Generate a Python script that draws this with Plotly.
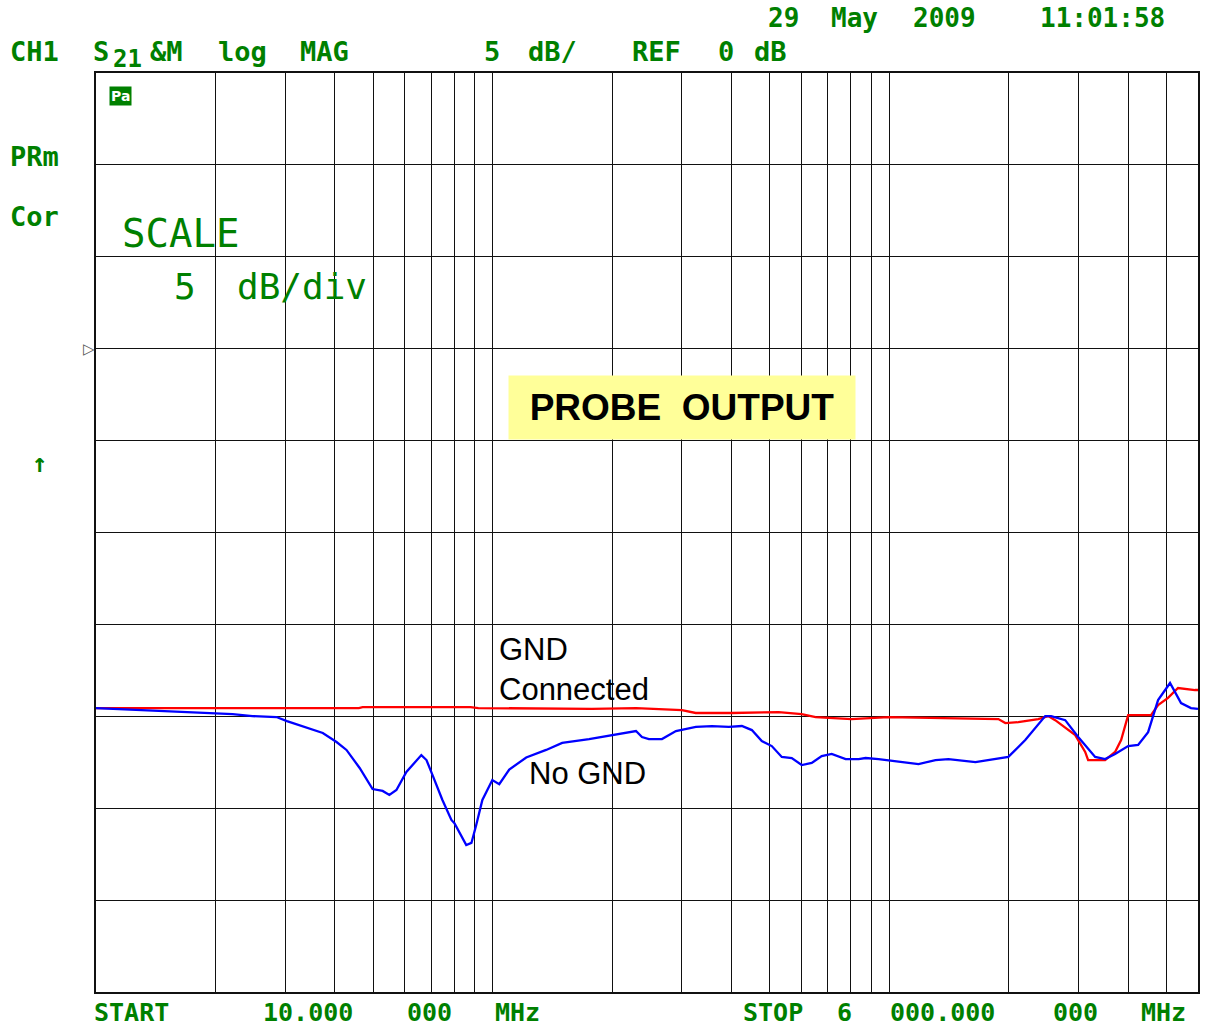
import math
import plotly.graph_objects as go

# ---------------- data ----------------
blue_freq = [10, 13.4, 15.6, 19.7, 22.1, 24.8, 28.5, 30.3, 34.0, 37.3,
             40.4, 42.8, 46.2, 49.8, 52.8, 54.9, 57.2, 60.6, 66.1, 68.1,
             70.5, 74.7, 78.7, 80.1, 85.8, 88.4, 90.9, 94.2, 99.8, 103.9,
             110.1, 121.5, 136.4, 149.7, 175.0, 200.0, 229.8, 237.9, 247.7, 267.2,
             289.7, 325.3, 357.0, 393.9, 424.8, 450.2, 476.9, 505.4, 535.6, 567.6,
             601.4, 637.3, 675.3, 715.6, 776.0, 836.8, 871.3, 939.3, 1098.7, 1184.6,
             1307.2, 1409.3, 1648.4, 1850.6, 1995.2, 2201.4, 2471.7, 2559.0, 2775.8, 2993.3,
             3302.8, 3499.4, 3708.0, 3999.6, 4238.6, 4491.3, 4758.8, 5101.3, 5436.9, 5760.9,
             6000]
blue_db = [-19.55, -19.66, -19.72, -19.82, -19.88, -19.99, -20.04, -20.26, -20.64, -20.91,
           -21.40, -21.83, -22.81, -23.96, -24.06, -24.28, -24.01, -23.03, -22.11, -22.38,
           -23.19, -24.55, -25.64, -25.81, -27.00, -26.89, -25.91, -24.55, -23.47, -23.69,
           -22.90, -22.24, -21.83, -21.45, -21.24, -21.02, -20.80, -21.13, -21.24, -21.24,
           -20.80, -20.58, -20.53, -20.58, -20.53, -20.75, -21.35, -21.62, -22.21, -22.27,
           -22.65, -22.54, -22.16, -22.05, -22.33, -22.33, -22.27, -22.33, -22.49, -22.60,
           -22.38, -22.33, -22.49, -22.33, -22.21, -21.29, -19.99, -19.99, -20.21, -21.13,
           -22.21, -22.33, -22.05, -21.62, -21.56, -20.86, -19.12, -18.19, -19.28, -19.55,
           -19.60]

red_freq = [10, 46, 47, 88, 92, 178, 230, 300, 325, 401,
            526, 601, 652, 803, 995, 1307, 1883, 1961, 2114, 2373,
            2515, 2619, 2776, 2942, 3117, 3171, 3499, 3708, 3840, 4000,
            4568, 4759, 5042, 5343, 5896, 6000]
red_db = [-19.55, -19.55, -19.50, -19.50, -19.55, -19.60, -19.55, -19.66, -19.82, -19.82,
          -19.77, -19.88, -20.04, -20.15, -20.04, -20.10, -20.15, -20.37, -20.32, -20.15,
          -19.99, -20.21, -20.64, -21.02, -21.94, -22.38, -22.38, -21.94, -21.29, -19.94,
          -19.94, -19.39, -19.00, -18.46, -18.57, -18.57]

x_grid = [10, 20, 30, 40, 50, 60, 70, 80, 90,
          100, 200, 300, 400, 500, 600, 700, 800, 900,
          1000, 2000, 3000, 4000, 5000, 6000]
y_grid = [-35, -30, -25, -20, -15, -10, -5, 0, 5, 10, 15]
x_range = [10, 6000]
y_range = [-35, 15]

# ---------------- layout helpers ----------------
W, H = 1209, 1030
L, R, T, B = 96, 9, 73, 38
PW, PH = W - L - R, H - T - B
GREEN = "#008000"
MONO = "DejaVu Sans Mono"


def px(x):  # page pixel -> paper fraction
    return (x - L) / PW


def py(y):
    return 1 - (y - T) / PH


fig = go.Figure()
fig.add_trace(go.Scatter(x=red_freq, y=red_db, mode="lines", name="GND Connected",
                         line=dict(color="#ff0000", width=2.3)))
fig.add_trace(go.Scatter(x=blue_freq, y=blue_db, mode="lines", name="No GND",
                         line=dict(color="#0000ff", width=2.3)))

fig.update_xaxes(type="log", range=[math.log10(x_range[0]), math.log10(x_range[1])],
                 tickmode="array", tickvals=x_grid, showticklabels=False, ticks="",
                 showgrid=True, gridcolor="#111111", gridwidth=1.3,
                 showline=True, mirror=True, linecolor="#111111", linewidth=1.5,
                 zeroline=False)
fig.update_yaxes(range=y_range, tickmode="array", tickvals=y_grid, showticklabels=False,
                 ticks="", showgrid=True, gridcolor="#111111", gridwidth=1.3,
                 showline=True, mirror=True, linecolor="#111111", linewidth=1.5,
                 zeroline=False)

ann = []


def text(s, x, y, size, color=GREEN, family=MONO, weight="bold", **kw):
    d = dict(text=s, x=px(x), y=py(y), xref="paper", yref="paper",
             xanchor="left", yanchor="middle", showarrow=False,
             font=dict(family=family, size=size, color=color, weight=weight))
    d.update(kw)
    ann.append(d)


# instrument header text
for s, x, y in [("29", 767, 18), ("May", 830, 18), ("2009", 912, 18), ("11:01:58", 1040, 18)]:
    text(s, x, y, 26)
for s, x, y in [("CH1", 8, 51), ("S", 91, 51), ("&amp;M", 148, 51), ("log", 216, 51),
                ("MAG", 298, 51), ("5", 483, 51), ("dB/", 527, 51), ("REF", 631, 51),
                ("0", 717, 51), ("dB", 753, 51),
                ("PRm", 8, 156), ("Cor", 8, 217)]:
    text(s, x, y, 27)
# footer text
for s, x, y in [("START", 92, 1013), ("10.000", 261, 1013), ("000", 406, 1013),
                ("MHz", 494, 1013), ("STOP", 742, 1013), ("6", 836, 1013),
                ("000.000", 889, 1013), ("000", 1053, 1013), ("MHz", 1141, 1013)]:
    text(s, x, y, 25)
text("21", 111, 59, 24)
text("SCALE", 120, 234, 39, weight="normal")
text("5", 172, 286, 36, weight="normal")
text("dB/div", 235, 286, 36, weight="normal")
text("↑", 30, 463, 26)
text("▷", 81, 349, 15, color="#555555", family="DejaVu Sans", weight="normal")
text("Pa", 109, 96, 14, color="white", family="DejaVu Sans", weight="bold",
     bgcolor=GREEN, borderpad=1)

# PROBE OUTPUT box
ann.append(dict(text="PROBE  OUTPUT", x=px(683), y=py(407.5), xref="paper", yref="paper",
                xanchor="center", yanchor="middle", showarrow=False,
                width=346, height=63, borderpad=0, bgcolor="#ffff99",
                font=dict(family="Liberation Sans", size=37, color="black", weight="bold")))

# trace labels
text("GND<br>Connected", 498, 669, 31, color="black", family="Liberation Sans",
     weight="normal", align="left")
text("No GND", 528, 773, 31, color="black", family="Liberation Sans", weight="normal")

fig.update_layout(width=W, height=H, margin=dict(l=L, r=R, t=T, b=B),
                  paper_bgcolor="white", plot_bgcolor="white", showlegend=False,
                  annotations=ann)

fig.write_html("out.html", config={"displayModeBar": False},
               post_script="document.body.style.margin='0px';")
